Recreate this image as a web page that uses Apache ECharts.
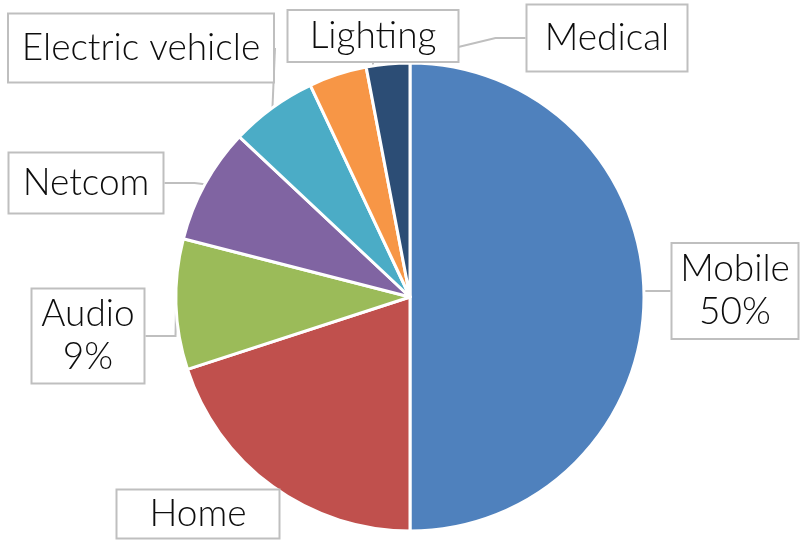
<!DOCTYPE html>
<html>
<head>
<meta charset="utf-8">
<script src="https://cdn.jsdelivr.net/npm/echarts@6/dist/echarts.min.js"></script>
<style>
  html, body { margin: 0; padding: 0; background: #fff; }
  #chart { width: 808px; height: 541px; }
</style>
</head>
<body>
<div id="chart"></div>
<script>
// market share by segment (percent)
const segments = ['Mobile', 'Home', 'Audio', 'Netcom', 'Electric vehicle', 'Lighting', 'Medical']
const shares = [50, 20, 9, 8, 6, 4, 3]
const showPercent = [true, false, true, false, false, false, false]
const colors = ['#4F81BD', '#C0504D', '#9BBB59', '#8064A2', '#4BACC6', '#F79646', '#2C4D75']

// callout boxes: center x, center y, width, height
const boxes = [
  [735, 291, 129, 98],
  [198, 514, 165, 51],
  [88, 336, 115, 97],
  [86, 183, 157, 63],
  [141, 48, 268, 71],
  [373, 36, 173, 54],
  [607, 38, 163, 69]
]

const chart = echarts.init(document.getElementById('chart'))

const option = {
  animation: false,
  series: [{
    type: 'pie',
    center: [410, 297],
    radius: [0, 234],
    startAngle: 90,
    clockwise: true,
    itemStyle: {
      borderColor: '#fff',
      borderWidth: 3
    },
    label: {
      show: true,
      fontFamily: 'Lato',
      fontWeight: 300,
      fontSize: 37,
      lineHeight: 43,
      color: '#0d0d0d',
      backgroundColor: '#fff',
      borderColor: '#bfbfbf',
      borderWidth: 2,
      align: 'center',
      verticalAlign: 'middle'
    },
    labelLine: {
      show: true,
      lineStyle: { color: '#bfbfbf', width: 2 }
    },
    labelLayout: function (params) {
      const b = boxes[params.dataIndex]
      return { x: b[0], y: b[1], align: 'center', verticalAlign: 'middle' }
    },
    data: segments.map((name, i) => ({
      name: name,
      value: shares[i],
      itemStyle: { color: colors[i] },
      labelLine: { show: name !== 'Home' },
      label: {
        formatter: showPercent[i] ? '{b}\n{d}%' : '{b}',
        width: boxes[i][2] - 4,
        height: boxes[i][3] - 4
      }
    }))
  }]
}

chart.setOption(option)
</script>
</body>
</html>
